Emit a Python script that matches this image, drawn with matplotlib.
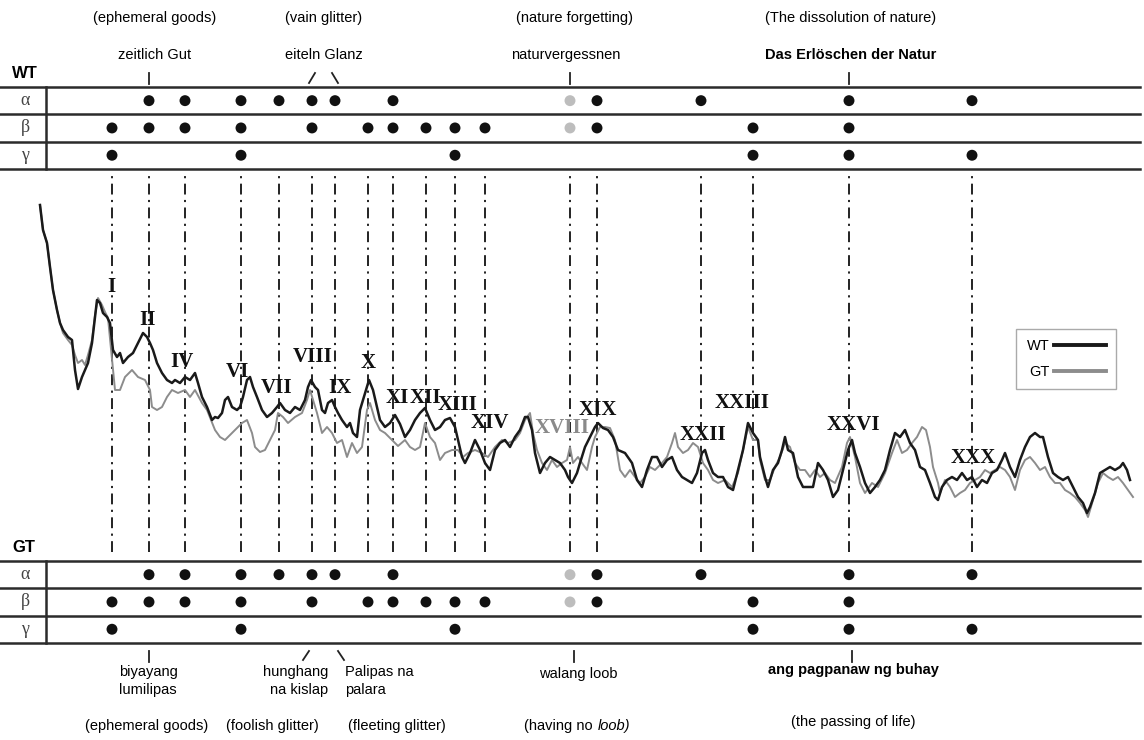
import matplotlib.pyplot as plt

plt.rcParams['font.family'] = ['Liberation Sans', 'DejaVu Sans']

W, H = 1144, 740

# positions of the marked passages along the text
cols = [112, 149, 185, 241, 279, 312, 335, 368, 393, 426, 455, 485,
        570, 597, 701, 753, 849, 972]
numerals = ['I', 'II', 'IV', 'VI', 'VII', 'VIII', 'IX', 'X', 'XI', 'XII',
            'XIII', 'XIV', 'XVIII', 'XIX', 'XXII', 'XXIII', 'XXVI', 'XXX']
numeral_x = [111, 148, 182, 237, 277, 313, 340, 368, 397, 425, 458, 490,
             562, 598, 703, 742, 853, 973]
numeral_v = [265, 232, 190, 180, 164, 195, 164, 189, 154, 154, 147, 129,
             124, 142, 117, 149, 127, 94]
faded_col = 12  # XVIII, drawn in grey

# which columns carry a mark in each row (same for WT and GT)
rows_alpha = [1, 2, 3, 4, 5, 6, 8, 12, 13, 14, 16, 17]
rows_beta = [0, 1, 2, 3, 5, 7, 8, 9, 10, 11, 12, 13, 15, 16]
rows_gamma = [0, 3, 10, 15, 16, 17]
greek = ['\u03b1', '\u03b2', '\u03b3']

# WT curve
wt_x = [40, 43, 47, 50, 53, 57, 60, 63, 68, 72, 75, 78, 82, 85, 88, 92, 95, 97, 100, 103,
        107, 110, 113, 117, 120, 123, 128, 133, 138, 143, 147, 150, 153, 157, 162, 167, 172, 175, 180, 185,
        190, 195, 198, 202, 207, 212, 215, 218, 222, 225, 228, 232, 237, 240, 243, 247, 250, 253, 257, 262,
        267, 272, 277, 280, 285, 290, 295, 300, 305, 308, 311, 315, 318, 322, 325, 328, 332, 335, 338, 342,
        347, 350, 353, 357, 360, 363, 367, 369, 373, 377, 380, 385, 390, 395, 400, 405, 410, 415, 420, 425,
        430, 435, 440, 445, 450, 455, 458, 462, 465, 470, 475, 480, 485, 490, 495, 500, 505, 510, 515, 520,
        525, 528, 532, 535, 540, 545, 550, 555, 560, 565, 568, 572, 577, 580, 585, 590, 595, 598, 603, 608,
        613, 618, 625, 632, 637, 642, 647, 652, 657, 662, 667, 672, 677, 682, 687, 692, 697, 702, 705, 708,
        713, 718, 723, 728, 733, 738, 743, 748, 753, 758, 760, 765, 768, 773, 778, 782, 785, 788, 793, 798,
        803, 808, 813, 818, 823, 828, 833, 838, 843, 848, 852, 855, 860, 865, 870, 875, 880, 885, 890, 895,
        900, 905, 910, 915, 920, 925, 930, 935, 938, 942, 947, 952, 957, 962, 967, 972, 977, 982, 987, 992,
        997, 1002, 1005, 1010, 1015, 1020, 1025, 1030, 1035, 1040, 1043, 1048, 1053, 1058, 1063, 1068, 1073,
        1078, 1083, 1087, 1090, 1095, 1100, 1105, 1110, 1115, 1120, 1123, 1127, 1130]
wt_v = [347, 322, 309, 285, 262, 242, 229, 222, 215, 212, 182, 163, 175, 182, 189, 209, 235, 252, 249, 239,
        235, 229, 202, 195, 199, 189, 195, 199, 209, 219, 215, 209, 202, 189, 179, 172, 169, 172, 169, 175,
        172, 179, 169, 155, 145, 132, 135, 134, 139, 152, 155, 145, 142, 145, 155, 172, 175, 165, 155, 142,
        135, 139, 145, 149, 142, 139, 145, 142, 152, 165, 172, 165, 162, 142, 139, 149, 152, 145, 139, 132,
        125, 129, 119, 115, 142, 152, 165, 172, 162, 145, 132, 125, 129, 137, 128, 115, 122, 132, 139, 144,
        132, 122, 125, 132, 134, 125, 112, 95, 89, 99, 112, 102, 89, 82, 102, 109, 112, 105, 115, 122,
        135, 135, 122, 99, 79, 89, 95, 92, 89, 82, 75, 69, 79, 89, 105, 115, 125, 129, 124, 122,
        115, 102, 99, 89, 72, 65, 82, 95, 95, 85, 92, 95, 82, 75, 72, 69, 79, 99, 102, 92,
        79, 75, 75, 65, 62, 82, 102, 129, 119, 112, 95, 75, 65, 82, 89, 102, 115, 102, 99, 75,
        65, 65, 65, 89, 82, 72, 55, 62, 82, 102, 112, 99, 85, 69, 59, 65, 72, 82, 102, 119,
        115, 122, 109, 102, 85, 82, 69, 55, 52, 65, 72, 75, 72, 79, 72, 75, 65, 72, 69, 79,
        82, 92, 99, 85, 75, 92, 105, 115, 119, 115, 115, 95, 79, 75, 72, 75, 65,
        55, 49, 39, 45, 59, 79, 82, 85, 82, 85, 89, 82, 72]

# GT curve
gt_x = [40, 43, 47, 50, 53, 57, 60, 63, 68, 72, 75, 78, 82, 85, 88, 92, 95, 98, 102, 105,
        108, 113, 115, 120, 125, 132, 138, 145, 150, 152, 157, 162, 167, 172, 178, 185, 190, 195, 202, 207,
        215, 220, 225, 232, 238, 242, 247, 252, 255, 260, 265, 270, 275, 278, 283, 288, 295, 302, 307, 310,
        313, 317, 322, 327, 332, 337, 342, 347, 352, 357, 362, 367, 370, 375, 380, 385, 392, 398, 405, 410,
        415, 420, 425, 430, 435, 440, 445, 452, 458, 463, 468, 475, 482, 488, 495, 502, 508, 515, 520, 525,
        530, 533, 537, 542, 547, 552, 557, 562, 567, 570, 573, 578, 582, 587, 592, 595, 600, 605, 610, 615,
        620, 625, 630, 635, 640, 645, 650, 655, 662, 667, 672, 675, 678, 683, 688, 693, 698, 703, 708, 713,
        718, 725, 732, 738, 743, 748, 753, 758, 760, 765, 770, 775, 780, 785, 790, 795, 800, 805, 810, 815,
        820, 825, 830, 835, 842, 847, 850, 855, 860, 865, 872, 878, 885, 892, 897, 902, 907, 912, 917, 922,
        926, 930, 933, 938, 940, 945, 950, 955, 960, 965, 970, 975, 980, 985, 990, 995, 1000, 1005, 1010, 1015,
        1020, 1025, 1030, 1035, 1040, 1045, 1050, 1055, 1060, 1065, 1070, 1075, 1080, 1085, 1088, 1093, 1098,
        1103, 1108, 1113, 1118, 1123, 1128, 1133]
gt_v = [347, 322, 309, 285, 262, 242, 229, 219, 212, 207, 197, 189, 192, 187, 197, 212, 237, 254, 247, 240,
        234, 182, 162, 162, 175, 182, 175, 172, 162, 145, 142, 145, 155, 162, 159, 162, 155, 162, 149, 142,
        122, 115, 112, 119, 125, 129, 132, 119, 105, 100, 102, 112, 122, 139, 135, 129, 135, 139, 152, 162,
        152, 139, 119, 125, 119, 109, 112, 95, 109, 99, 105, 142, 149, 132, 122, 119, 112, 106, 112, 105,
        102, 105, 129, 115, 109, 92, 99, 102, 102, 95, 99, 102, 99, 95, 105, 112, 109, 112, 119, 132,
        139, 119, 102, 89, 82, 92, 85, 89, 92, 105, 89, 95, 89, 82, 105, 115, 125, 125, 124, 112,
        82, 75, 82, 75, 69, 75, 85, 82, 89, 95, 109, 119, 105, 99, 102, 109, 105, 89, 82, 72,
        69, 72, 65, 79, 102, 125, 112, 112, 92, 72, 72, 85, 95, 109, 105, 89, 82, 82, 75, 82,
        75, 79, 72, 69, 85, 109, 115, 95, 69, 59, 69, 65, 79, 99, 112, 99, 102, 109, 115, 125,
        122, 105, 85, 69, 59, 72, 65, 55, 59, 62, 69, 72, 75, 82, 79, 82, 85, 82, 75, 62,
        82, 92, 95, 89, 82, 85, 75, 69, 69, 62, 59, 55, 49, 42, 35, 52, 69,
        79, 75, 72, 75, 69, 62, 55]

fig = plt.figure(figsize=(W / 100, H / 100), dpi=100)
bg = fig.add_axes([0, 0, 1, 1])
bg.set_xlim(0, W)
bg.set_ylim(H, 0)
bg.axis('off')

# middle panel with the curves
ax = fig.add_axes([0, 1 - 552 / H, 1, 380 / H])
ax.set_xlim(0, W)
ax.set_ylim(0, 380)
ax.axis('off')

for c in cols:
    ax.axvline(c, color='#111111', lw=1.3, linestyle=(0, (6, 3, 1.2, 3)))

ax.plot(gt_x, gt_v, color='#8c8c8c', lw=1.4, label='GT', zorder=3)
ax.plot(wt_x, wt_v, color='#1a1a1a', lw=1.8, label='WT', zorder=4)

for i, (lab, lx, lv) in enumerate(zip(numerals, numeral_x, numeral_v)):
    ax.text(lx, lv, lab, ha='center', va='center', fontsize=15,
            fontfamily='Liberation Serif', fontweight='bold',
            color='#8a8a8a' if i == faded_col else '#111111', zorder=5)

handles = ax.get_legend_handles_labels()[0][::-1]
leg = ax.legend(handles, ['WT', 'GT'], loc='upper left', bbox_to_anchor=(1009 / W, 1 - 322 / H),
                bbox_transform=fig.transFigure, markerfirst=False, fancybox=False,
                edgecolor='#aaaaaa', framealpha=1, fontsize=10.5, handlelength=3.6,
                borderpad=0.7, labelspacing=0.8, handletextpad=0.3)
for line in leg.get_lines():
    line.set_linewidth(2.8)


def draw_table(top, name):
    rh = 27.3
    for i in range(4):
        bg.plot([0, 1140], [top + i * rh] * 2, color='#2b2b2b', lw=1.8)
    bg.plot([46, 46], [top, top + 3 * rh], color='#2b2b2b', lw=1.8)
    bg.text(12, top - 13, name, fontsize=12, fontweight='bold', va='center')
    for r, idx in enumerate([rows_alpha, rows_beta, rows_gamma]):
        yc = top + (r + 0.5) * rh
        bg.text(25, yc, greek[r], fontsize=13, ha='center', va='center',
                fontfamily='Liberation Serif', color='#444444')
        xs = [cols[i] for i in idx]
        cs = ['#bdbdbd' if i == faded_col else '#111111' for i in idx]
        bg.scatter(xs, [yc] * len(xs), s=62, c=cs, zorder=3, linewidths=0)


draw_table(87, 'WT')
draw_table(561, 'GT')

fs = 10.5
# top annotations (German original and English gloss)
bg.text(155, 18, '(ephemeral goods)', fontsize=fs, ha='center', va='center')
bg.text(155, 55, 'zeitlich Gut', fontsize=fs, ha='center', va='center')
bg.text(324, 18, '(vain glitter)', fontsize=fs, ha='center', va='center')
bg.text(324, 55, 'eiteln Glanz', fontsize=fs, ha='center', va='center')
bg.text(574, 18, '(nature forgetting)', fontsize=fs, ha='center', va='center')
bg.text(566, 55, 'naturvergessnen', fontsize=fs, ha='center', va='center')
bg.text(851, 18, '(The dissolution of nature)', fontsize=fs, ha='center', va='center')
bg.text(851, 55, 'Das Erlöschen der Natur', fontsize=fs, ha='center', va='center',
        fontweight='bold')

tick_kw = dict(color='#222222', lw=1.3)
for c in [cols[1], cols[12], cols[16]]:
    bg.plot([c, c], [73, 84], **tick_kw)
bg.plot([cols[5] - 3, cols[5] + 3], [83, 73], **tick_kw)
bg.plot([cols[6] - 3, cols[6] + 3], [73, 83], **tick_kw)

# bottom annotations (Tagalog translation and English gloss)
for c in [cols[1], cols[12] + 4, cols[16] + 3]:
    bg.plot([c, c], [651, 662], **tick_kw)
bg.plot([cols[5] - 9, cols[5] - 3], [660, 651], **tick_kw)
bg.plot([cols[6] + 3, cols[6] + 9], [651, 660], **tick_kw)

bg.text(148, 672, 'biyayang', fontsize=fs, ha='center', va='center')
bg.text(148, 690, 'lumilipas', fontsize=fs, ha='center', va='center')
bg.text(328, 672, 'hunghang', fontsize=fs, ha='right', va='center')
bg.text(328, 690, 'na kislap', fontsize=fs, ha='right', va='center')
bg.text(345, 672, 'Palipas na', fontsize=fs, ha='left', va='center')
bg.text(345, 690, 'palara', fontsize=fs, ha='left', va='center')
bg.text(578, 674, 'walang loob', fontsize=fs, ha='center', va='center')
bg.text(853, 670, 'ang pagpanaw ng buhay', fontsize=fs, ha='center', va='center',
        fontweight='bold')

bg.text(147, 726, '(ephemeral goods)', fontsize=fs, ha='center', va='center')
bg.text(272, 726, '(foolish glitter)', fontsize=fs, ha='center', va='center')
bg.text(397, 726, '(fleeting glitter)', fontsize=fs, ha='center', va='center')
bg.text(597, 726, '(having no ', fontsize=fs, ha='right', va='center')
bg.text(598, 726, 'loob)', fontsize=fs, ha='left', va='center', fontstyle='italic')
bg.text(853, 722, '(the passing of life)', fontsize=fs, ha='center', va='center')

plt.savefig('out.png', dpi=100)
